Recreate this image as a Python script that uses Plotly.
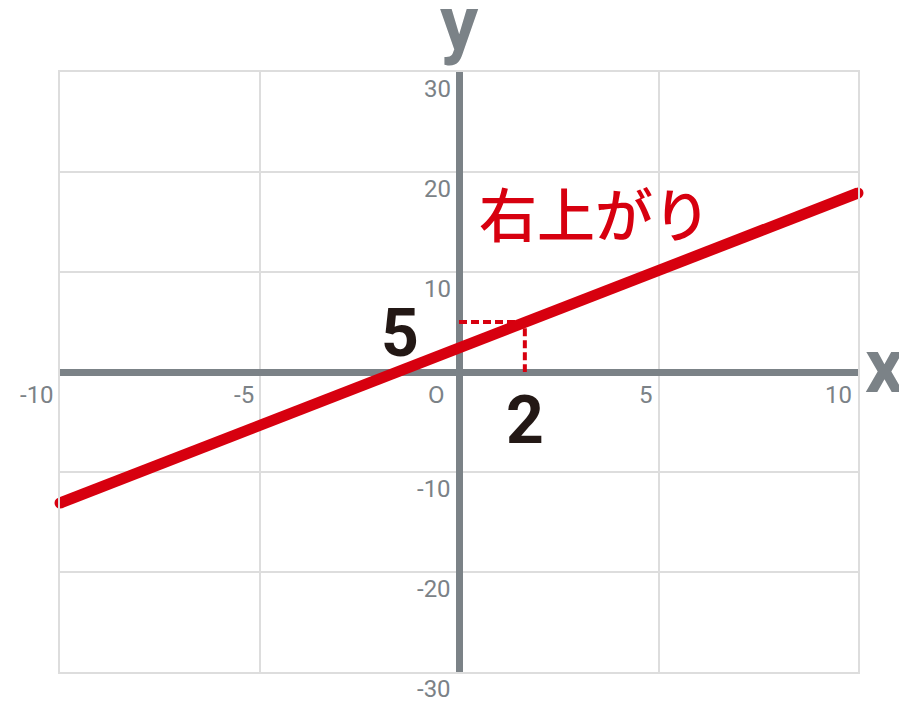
import plotly.graph_objects as go

# the rising line, read at the two ends of the x range
line_x = [-10, 10]
line_y = [-13.1, 17.9]

# dashed guide to the marked point
guide_x = [0, 1.65, 1.65]
guide_y = [5, 5, 0]

x_ticks = [-10, -5, 5, 10]
y_ticks = [30, 20, 10, -10, -20, -30]

RED = '#d7000f'
GRAY = '#7b8287'
GRID = '#dddddd'
NUM_FONT = 'Roboto, Arial, sans-serif'

fig = go.Figure()

fig.add_trace(go.Scatter(x=guide_x, y=guide_y, mode='lines',
                         line=dict(color=RED, width=4, dash='8px,4px'),
                         hoverinfo='skip', showlegend=False))
fig.add_trace(go.Scatter(x=line_x, y=line_y, mode='lines+markers',
                         line=dict(color=RED, width=11),
                         marker=dict(color=RED, size=11),
                         cliponaxis=False, showlegend=False))

annotations = []
# x tick labels: under the x axis, right aligned to the grid line
for v in x_ticks:
    annotations.append(dict(x=v, y=0, text=str(v), showarrow=False,
                            xanchor='right', yanchor='top', xshift=-4, yshift=-7,
                            font=dict(family=NUM_FONT, size=24, color=GRAY)))
# y tick labels: left of the y axis, just below the grid line
for v in y_ticks:
    annotations.append(dict(x=0, y=v, text=str(v), showarrow=False,
                            xanchor='right', yanchor='top', xshift=-6, yshift=-1,
                            font=dict(family=NUM_FONT, size=24, color=GRAY)))
# origin
annotations.append(dict(x=0, y=0, text='O', showarrow=False,
                        xanchor='right', yanchor='top', xshift=-12, yshift=-7,
                        font=dict(family=NUM_FONT, size=24, color=GRAY)))
# axis names
annotations.append(dict(x=10, y=0, text='<b>x</b>', showarrow=False,
                        xanchor='left', yanchor='middle', xshift=5, yshift=6,
                        font=dict(family=NUM_FONT, size=76, color=GRAY)))
annotations.append(dict(x=0, y=30, text='<b>y</b>', showarrow=False,
                        xanchor='center', yanchor='bottom', yshift=2,
                        font=dict(family=NUM_FONT, size=76, color=GRAY)))
# values of the marked point
annotations.append(dict(x=0, y=5, text='<b>5</b>', showarrow=False,
                        xanchor='right', yanchor='middle', xshift=-38, yshift=-11,
                        font=dict(family=NUM_FONT, size=66, color='#231815')))
annotations.append(dict(x=1.65, y=0, text='<b>2</b>', showarrow=False,
                        xanchor='center', yanchor='top', yshift=-8,
                        font=dict(family=NUM_FONT, size=66, color='#231815')))
# line label
annotations.append(dict(x=0.45, y=16, text='右上がり', showarrow=False,
                        xanchor='left', yanchor='middle',
                        font=dict(family='Noto Sans CJK JP', size=58, weight=500,
                                  color=RED)))

# the page body has an 8px margin, so the figure is a bit smaller than the window
fig.update_layout(
    width=899, height=693,
    margin=dict(l=52, r=49, t=64, b=29),
    paper_bgcolor='white', plot_bgcolor='white',
    annotations=annotations,
    xaxis=dict(range=[-10, 10], dtick=5, showticklabels=False,
               showgrid=True, gridcolor=GRID, gridwidth=2,
               zeroline=True, zerolinecolor=GRAY, zerolinewidth=7,
               showline=True, linecolor=GRID, linewidth=2, mirror=True,
               fixedrange=True),
    yaxis=dict(range=[-30, 30], dtick=10, showticklabels=False,
               showgrid=True, gridcolor=GRID, gridwidth=2,
               zeroline=True, zerolinecolor=GRAY, zerolinewidth=7,
               showline=True, linecolor=GRID, linewidth=2, mirror=True,
               fixedrange=True),
)

fig.write_html("out.html")
